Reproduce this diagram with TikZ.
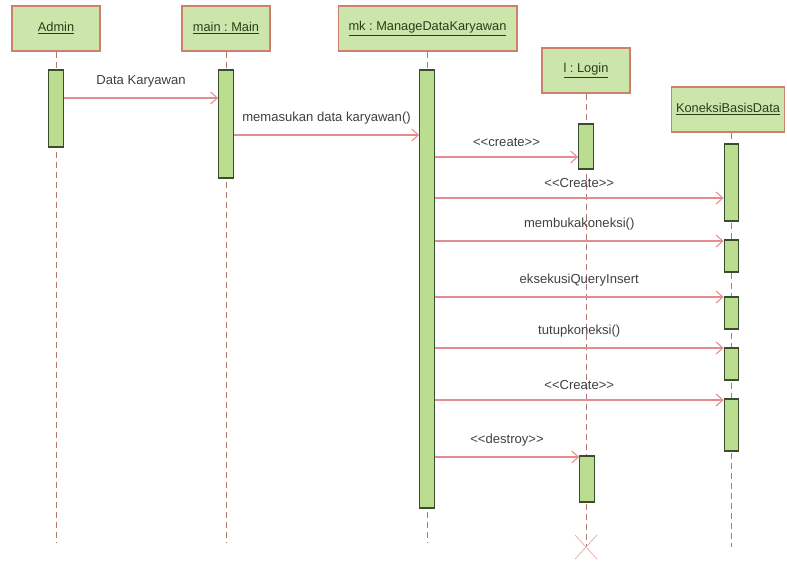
\documentclass[tikz,border=0pt]{standalone}
\usepackage{fontspec}
\setmainfont{Liberation Sans}[Ligatures=TeXOff]
\usetikzlibrary{arrows.meta, calc}
\frenchspacing

\definecolor{hdrfill}{RGB}{204,229,170}
\definecolor{actfill}{RGB}{186,221,143}
\definecolor{hdrline}{RGB}{205,128,108}
\definecolor{actline}{RGB}{58,78,46}
\definecolor{msgline}{RGB}{226,142,142}
\definecolor{lifeline}{RGB}{180,118,110}
\definecolor{hdrtext}{RGB}{38,64,28}

\begin{document}
\begin{tikzpicture}[x=0.75pt, y=-0.75pt,
    obj/.style={draw=hdrline, fill=hdrfill, line width=1pt, minimum height=33.75pt,
      inner sep=0pt, text=hdrtext, font=\fontsize{9.6}{11}\selectfont},
    act/.style={draw=actline, fill=actfill, line width=0.9pt, minimum width=11pt, inner sep=0pt},
    life/.style={draw=lifeline, dash pattern=on 4.5pt off 3pt, line width=0.6pt},
    msg/.style={draw=msgline, line width=0.8pt, -{Straight Barb[length=5pt, width=9pt]}},
    lbl/.style={midway, above=7.5pt, inner sep=0pt, text=black!75, font=\fontsize{9.8}{11}\selectfont}]
  \useasboundingbox (0,0) rectangle (787,560);

  % objects
  \node[obj, minimum width=66pt] (admin) at (56,28.5) {\underline{Admin}};
  \node[obj, minimum width=66pt] (main) at (226,28.5) {\underline{main : Main}};
  \node[obj, minimum width=134pt] (mk) at (427.5,28.5) {\underline{mk : ManageDataKaryawan}};
  \node[obj, minimum width=66pt] (login) at (586,70.5) {\underline{l : Login}};
  \node[obj, minimum width=85pt] (kbd) at (728,109.5) {\underline{KoneksiBasisData}};

  % lifelines
  \coordinate (endAdmin) at (56,543);
  \coordinate (endMain) at (226,543);
  \coordinate (endMk) at (427,543);
  \coordinate (endLogin) at (586,547);
  \coordinate (endKbd) at (731.5,547);
  \draw[life] (admin.south) -- (endAdmin);
  \draw[life] (main.south) -- (endMain);
  \draw[life] (mk.south -| endMk) -- (endMk);
  \draw[life] (login.south) -- (endLogin);
  \draw[life] (kbd.south -| endKbd) -- (endKbd);
  \draw[msgline!70, line width=0.6pt] ($(endLogin)+(-11,-12)$) -- ($(endLogin)+(11,12)$)
    ($(endLogin)+(-11,12)$) -- ($(endLogin)+(11,-12)$);

  % activations
  \node[act, minimum height=57.75pt] (aAdmin) at (56,108.5) {};
  \node[act, minimum height=81pt] (aMain) at (226,124) {};
  \node[act, minimum height=328.5pt] (aMk) at (427,289) {};
  \node[act, minimum height=33.75pt] (aLog1) at (586,146.5) {};
  \node[act, minimum height=34.5pt] (aLog2) at (587,479) {};
  \node[act, minimum height=57.75pt] (aKbd1) at (731.5,182.5) {};
  \node[act, minimum height=24pt] (aKbd2) at (731.5,256) {};
  \node[act, minimum height=24pt] (aKbd3) at (731.5,313) {};
  \node[act, minimum height=24pt] (aKbd4) at (731.5,364) {};
  \node[act, minimum height=39pt] (aKbd5) at (731.5,425) {};

  % messages
  \draw[msg] (aAdmin.east |- 0,98) -- (aMain.west |- 0,98) node[lbl] {Data Karyawan};
  \draw[msg] (aMain.east |- 0,135) -- (aMk.west |- 0,135) node[lbl] {memasukan data karyawan()};
  \draw[msg] (aMk.east |- 0,157) -- (aLog1.west |- 0,157) node[lbl] {<<create>>};
  \draw[msg] (aMk.east |- 0,198) -- (aKbd1.west |- 0,198) node[lbl] {<<Create>>};
  \draw[msg] (aMk.east |- 0,241) -- (aKbd2.west |- 0,241) node[lbl] {membukakoneksi()};
  \draw[msg] (aMk.east |- 0,297) -- (aKbd3.west |- 0,297) node[lbl] {eksekusiQueryInsert};
  \draw[msg] (aMk.east |- 0,348) -- (aKbd4.west |- 0,348) node[lbl] {tutupkoneksi()};
  \draw[msg] (aMk.east |- 0,400) -- (aKbd5.west |- 0,400) node[lbl] {<<Create>>};
  \draw[msg] (aMk.east |- 0,457) -- (aLog2.west |- 0,457) node[lbl] {<<destroy>>};
\end{tikzpicture}
\end{document}
